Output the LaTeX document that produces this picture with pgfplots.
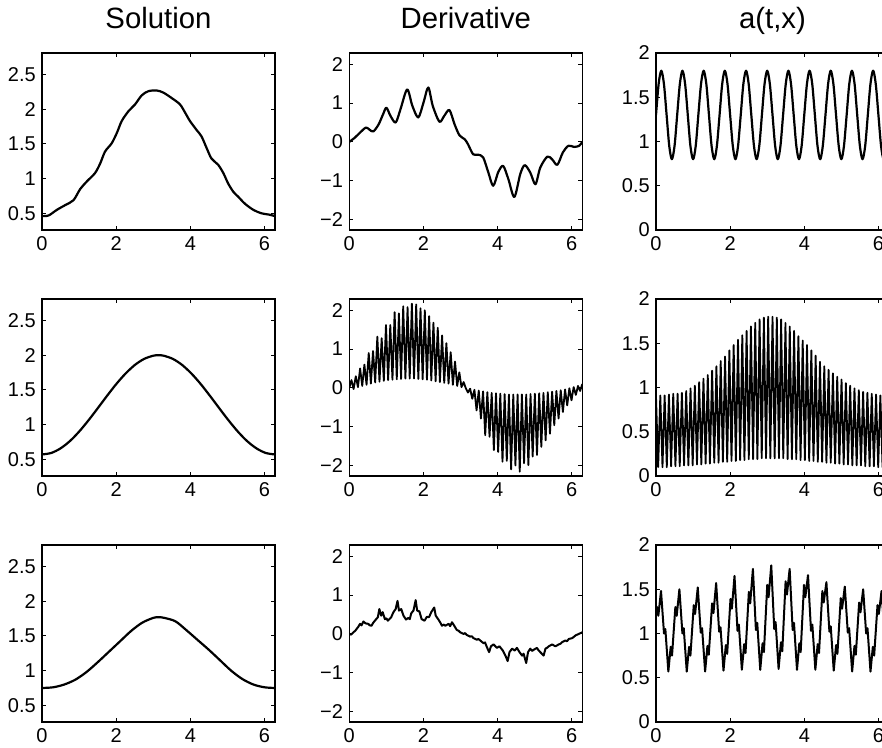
\documentclass[border=0pt]{standalone}
\usepackage{pgfplots}
\pgfplotsset{compat=1.18}
\usepackage{fontspec}
\setmainfont{Liberation Sans}

\newcommand{\ticksfont}{\fontsize{15}{17}\selectfont}
\newcommand{\titlefont}{\fontsize{22}{24}\selectfont}

\pgfplotsset{
  panel/.style={
    scale only axis, width=174.75pt, height=132.75pt,
    anchor=south west,
    xmin=0, xmax=6.2832,
    xtick={0,2,4,6}, xticklabels={0,2,4,6},
    tick align=inside, tick pos=both, major tick length=3pt,
    axis line style={line width=0.9pt, black},
    every tick/.style={line width=0.8pt, black},
    tick label style={font=\ticksfont},
    xticklabel style={anchor=north, inner sep=0pt, yshift=-4.8pt},
    yticklabel style={anchor=east, inner sep=0pt, xshift=-4.5pt},
    title style={font=\titlefont, anchor=base, at={(0.5,1)}, yshift=12.5pt, inner sep=0pt},
  },
  solpanel/.style={panel, ymin=0.26, ymax=2.81,
    ytick={0.5,1,1.5,2,2.5}, yticklabels={0.5,1,1.5,2,2.5}},
  derpanel/.style={panel, ymin=-2.27, ymax=2.29,
    ytick={-2,-1,0,1,2}, yticklabels={−2,−1,0,1,2}},
  coefpanel/.style={panel, ymin=0, ymax=2,
    ytick={0,0.5,1,1.5,2}, yticklabels={0,0.5,1,1.5,2}},
  curve/.style={black, line width=1.65pt, line join=round, mark=none},
  dense/.style={black, line width=1.35pt, line join=round, mark=none},
}

\begin{document}
\begin{tikzpicture}

% ---------------- first row ----------------
\begin{axis}[solpanel, at={(31.5pt,387.75pt)}, title={Solution}]
\addplot[curve, smooth] table {
0.00 0.46
0.18 0.47
0.40 0.55
0.63 0.62
0.85 0.69
1.03 0.85
1.21 0.96
1.43 1.08
1.57 1.22
1.70 1.39
1.88 1.51
2.02 1.66
2.15 1.83
2.33 1.97
2.51 2.07
2.69 2.20
2.87 2.26
3.09 2.27
3.27 2.24
3.50 2.16
3.72 2.07
3.86 1.95
3.99 1.83
4.17 1.70
4.30 1.61
4.44 1.44
4.57 1.29
4.75 1.20
4.89 1.08
5.02 0.93
5.16 0.81
5.29 0.74
5.47 0.64
5.70 0.55
5.92 0.50
6.14 0.48
6.283 0.46
};
\end{axis}

\begin{axis}[derpanel, at={(261.975pt,387.75pt)}, title={Derivative}]
\addplot[curve, smooth] table {
0.00 0.00
0.15 0.11
0.29 0.24
0.45 0.37
0.55 0.31
0.65 0.27
0.79 0.45
0.91 0.71
1.00 0.88
1.11 0.67
1.25 0.50
1.38 0.84
1.56 1.35
1.70 0.93
1.86 0.63
2.00 1.01
2.13 1.40
2.25 0.93
2.43 0.52
2.56 0.67
2.70 0.82
2.84 0.45
2.97 0.17
3.11 0.07
3.20 -0.06
3.34 -0.32
3.47 -0.33
3.61 -0.40
3.75 -0.79
3.88 -1.13
4.02 -0.77
4.15 -0.62
4.29 -0.96
4.45 -1.42
4.61 -0.83
4.73 -0.60
4.88 -0.79
5.02 -1.09
5.15 -0.66
5.34 -0.38
5.47 -0.45
5.61 -0.59
5.76 -0.27
5.91 -0.10
6.06 -0.13
6.20 -0.10
6.283 0.00
};
\end{axis}

\begin{axis}[coefpanel, at={(492pt,387.75pt)}, title={a(t,x)}]
\addplot[curve, smooth] table {
0.000 1.30
0.071 1.65
0.143 1.80
0.214 1.65
0.286 1.30
0.357 0.95
0.428 0.80
0.500 0.95
0.571 1.30
0.643 1.65
0.714 1.80
0.785 1.65
0.857 1.30
0.928 0.95
1.000 0.80
1.071 0.95
1.142 1.30
1.214 1.65
1.285 1.80
1.357 1.65
1.428 1.30
1.499 0.95
1.571 0.80
1.642 0.95
1.714 1.30
1.785 1.65
1.856 1.80
1.928 1.65
1.999 1.30
2.071 0.95
2.142 0.80
2.213 0.95
2.285 1.30
2.356 1.65
2.428 1.80
2.499 1.65
2.570 1.30
2.642 0.95
2.713 0.80
2.785 0.95
2.856 1.30
2.927 1.65
2.999 1.80
3.070 1.65
3.142 1.30
3.213 0.95
3.284 0.80
3.356 0.95
3.427 1.30
3.499 1.65
3.570 1.80
3.641 1.65
3.713 1.30
3.784 0.95
3.856 0.80
3.927 0.95
3.998 1.30
4.070 1.65
4.141 1.80
4.213 1.65
4.284 1.30
4.355 0.95
4.427 0.80
4.498 0.95
4.570 1.30
4.641 1.65
4.712 1.80
4.784 1.65
4.855 1.30
4.927 0.95
4.998 0.80
5.069 0.95
5.141 1.30
5.212 1.65
5.284 1.80
5.355 1.65
5.426 1.30
5.498 0.95
5.569 0.80
5.641 0.95
5.712 1.30
5.783 1.65
5.855 1.80
5.926 1.65
5.998 1.30
6.069 0.95
6.140 0.80
6.212 0.95
6.283 1.30
};
\end{axis}

% ---------------- second row ----------------
\begin{axis}[solpanel, at={(31.5pt,203.25pt)}]
\addplot[curve, smooth] table {
0.000 0.570
0.250 0.592
0.500 0.658
0.750 0.762
1.000 0.899
1.250 1.060
1.500 1.234
1.750 1.412
2.000 1.583
2.250 1.734
2.500 1.858
2.750 1.946
3.000 1.993
3.142 2.000
3.283 1.993
3.533 1.946
3.783 1.858
4.033 1.734
4.283 1.583
4.533 1.412
4.783 1.234
5.033 1.060
5.283 0.899
5.533 0.762
5.783 0.658
6.033 0.592
6.283 0.570
};
\end{axis}

\begin{axis}[derpanel, at={(261.975pt,203.25pt)}]
\addplot[dense] table {
0.000 0.00
0.058 0.20
0.116 -0.03
0.175 0.30
0.233 0.02
0.291 0.50
0.349 0.05
0.407 0.60
0.465 0.08
0.524 0.90
0.582 0.11
0.640 0.95
0.698 0.14
0.756 1.32
0.814 0.16
0.873 1.28
0.931 0.18
0.989 1.62
1.047 0.20
1.105 1.62
1.164 0.21
1.222 1.95
1.280 0.22
1.338 1.92
1.396 0.23
1.454 2.10
1.513 0.24
1.571 2.08
1.629 0.24
1.687 2.17
1.745 0.24
1.804 2.15
1.862 0.23
1.920 2.05
1.978 0.22
2.036 2.00
2.094 0.21
2.153 1.85
2.211 0.19
2.269 1.68
2.327 0.17
2.385 1.55
2.443 0.15
2.502 1.35
2.560 0.13
2.618 1.15
2.676 0.11
2.734 0.92
2.793 0.08
2.851 0.68
2.909 0.05
2.967 0.40
3.025 0.02
3.083 0.15
3.142 -0.01
3.200 -0.12
3.258 -0.02
3.316 -0.28
3.374 -0.05
3.432 -0.58
3.491 -0.07
3.549 -0.79
3.607 -0.09
3.665 -1.22
3.723 -0.11
3.782 -1.26
3.840 -0.13
3.898 -1.60
3.956 -0.14
4.014 -1.65
4.072 -0.15
4.131 -1.90
4.189 -0.16
4.247 -1.88
4.305 -0.17
4.363 -2.10
4.422 -0.17
4.480 -2.00
4.538 -0.17
4.596 -2.16
4.654 -0.17
4.712 -1.94
4.771 -0.17
4.829 -1.99
4.887 -0.16
4.945 -1.77
5.003 -0.15
5.061 -1.73
5.120 -0.14
5.178 -1.52
5.236 -0.13
5.294 -1.35
5.352 -0.11
5.411 -1.18
5.469 -0.10
5.527 -0.96
5.585 -0.08
5.643 -0.79
5.701 -0.06
5.760 -0.62
5.818 -0.04
5.876 -0.45
5.934 -0.01
5.992 -0.32
6.050 0.02
6.109 -0.18
6.167 0.05
6.225 -0.08
6.283 0.10
};
\end{axis}

\begin{axis}[coefpanel, at={(492pt,203.25pt)}]
\addplot[dense] table {
0.000 0.90
0.058 0.10
0.116 0.91
0.175 0.10
0.233 0.91
0.291 0.10
0.349 0.92
0.407 0.11
0.465 0.93
0.524 0.11
0.582 0.93
0.640 0.11
0.698 0.94
0.756 0.12
0.814 0.96
0.873 0.12
0.931 0.99
0.989 0.12
1.047 1.02
1.105 0.13
1.164 1.06
1.222 0.13
1.280 1.10
1.338 0.14
1.396 1.14
1.454 0.14
1.513 1.19
1.571 0.15
1.629 1.24
1.687 0.15
1.745 1.30
1.804 0.16
1.862 1.35
1.920 0.16
1.978 1.42
2.036 0.17
2.094 1.48
2.153 0.17
2.211 1.54
2.269 0.18
2.327 1.59
2.385 0.18
2.443 1.64
2.502 0.19
2.560 1.69
2.618 0.19
2.676 1.73
2.734 0.19
2.793 1.77
2.851 0.20
2.909 1.79
2.967 0.20
3.025 1.80
3.083 0.20
3.142 1.80
3.200 0.20
3.258 1.79
3.316 0.20
3.374 1.77
3.432 0.20
3.491 1.73
3.549 0.19
3.607 1.69
3.665 0.19
3.723 1.64
3.782 0.19
3.840 1.58
3.898 0.18
3.956 1.53
4.014 0.18
4.072 1.48
4.131 0.17
4.189 1.42
4.247 0.17
4.305 1.36
4.363 0.16
4.422 1.29
4.480 0.16
4.538 1.24
4.596 0.15
4.654 1.20
4.712 0.15
4.771 1.16
4.829 0.14
4.887 1.12
4.945 0.14
5.003 1.09
5.061 0.13
5.120 1.05
5.178 0.13
5.236 1.02
5.294 0.12
5.352 0.99
5.411 0.12
5.469 0.97
5.527 0.12
5.585 0.95
5.643 0.11
5.701 0.94
5.760 0.11
5.818 0.93
5.876 0.11
5.934 0.92
5.992 0.10
6.050 0.91
6.109 0.10
6.167 0.91
6.225 0.10
6.283 0.90
};
\end{axis}

% ---------------- third row ----------------
\begin{axis}[solpanel, at={(31.5pt,18.75pt)}]
\addplot[curve, smooth] table {
0.000 0.75
0.300 0.76
0.600 0.80
0.900 0.87
1.200 0.98
1.500 1.12
1.800 1.27
2.100 1.42
2.400 1.57
2.700 1.69
3.000 1.76
3.142 1.77
3.300 1.76
3.600 1.71
3.900 1.58
4.200 1.44
4.500 1.30
4.800 1.15
5.100 1.00
5.400 0.88
5.700 0.80
6.000 0.76
6.283 0.75
};
\end{axis}

\begin{axis}[derpanel, at={(261.975pt,18.75pt)}]
\addplot[curve, line width=1.5pt] table {
0.00 0.00
0.05 -0.02
0.11 0.04
0.16 0.08
0.20 0.13
0.24 0.18
0.29 0.26
0.33 0.22
0.38 0.32
0.44 0.27
0.51 0.26
0.55 0.22
0.60 0.21
0.64 0.28
0.69 0.34
0.77 0.43
0.81 0.64
0.86 0.47
0.90 0.56
0.96 0.38
1.00 0.40
1.04 0.34
1.13 0.43
1.19 0.56
1.25 0.64
1.30 0.85
1.34 0.60
1.40 0.64
1.46 0.47
1.53 0.37
1.59 0.41
1.63 0.38
1.67 0.53
1.73 0.60
1.79 0.87
1.83 0.60
1.89 0.58
1.95 0.38
2.03 0.34
2.09 0.44
2.15 0.43
2.21 0.56
2.29 0.68
2.33 0.47
2.41 0.36
2.46 0.28
2.50 0.21
2.55 0.24
2.59 0.21
2.68 0.26
2.72 0.20
2.77 0.30
2.81 0.24
2.90 0.10
2.95 0.08
2.99 0.04
3.08 0.00
3.12 0.02
3.17 -0.03
3.26 -0.07
3.30 -0.06
3.35 -0.11
3.44 -0.15
3.48 -0.13
3.53 -0.17
3.62 -0.24
3.66 -0.22
3.71 -0.34
3.77 -0.47
3.82 -0.32
3.89 -0.27
3.98 -0.36
4.05 -0.32
4.14 -0.43
4.21 -0.56
4.27 -0.70
4.32 -0.47
4.39 -0.38
4.46 -0.43
4.52 -0.36
4.59 -0.47
4.66 -0.56
4.70 -0.51
4.77 -0.75
4.82 -0.47
4.88 -0.38
4.93 -0.44
4.97 -0.41
5.06 -0.36
5.10 -0.42
5.15 -0.47
5.24 -0.56
5.29 -0.38
5.33 -0.36
5.38 -0.32
5.47 -0.27
5.52 -0.30
5.56 -0.32
5.65 -0.27
5.70 -0.25
5.74 -0.21
5.83 -0.17
5.87 -0.19
5.92 -0.13
6.01 -0.11
6.05 -0.08
6.10 -0.04
6.19 0.00
6.283 0.04
};
\end{axis}

\begin{axis}[coefpanel, at={(492pt,18.75pt)}]
\addplot[curve, line width=1.5pt] table {
0.000 1.26
0.027 1.30
0.063 1.20
0.135 1.48
0.216 1.00
0.252 1.05
0.333 0.57
0.396 0.85
0.432 0.75
0.522 1.30
0.558 1.20
0.631 1.50
0.712 1.00
0.748 1.06
0.829 0.57
0.892 0.85
0.928 0.75
1.018 1.32
1.054 1.22
1.126 1.52
1.207 1.01
1.243 1.06
1.324 0.57
1.387 0.86
1.423 0.76
1.513 1.34
1.549 1.23
1.622 1.57
1.703 1.02
1.739 1.07
1.820 0.58
1.883 0.87
1.919 0.77
2.009 1.39
2.045 1.28
2.117 1.65
2.198 1.03
2.234 1.10
2.315 0.59
2.378 0.88
2.414 0.78
2.504 1.47
2.540 1.34
2.613 1.73
2.694 1.04
2.730 1.12
2.811 0.59
2.874 0.89
2.910 0.79
3.000 1.55
3.036 1.41
3.108 1.77
3.189 1.05
3.225 1.13
3.306 0.60
3.369 0.90
3.405 0.80
3.495 1.59
3.531 1.44
3.604 1.73
3.685 1.04
3.721 1.12
3.802 0.59
3.865 0.89
3.901 0.79
3.991 1.55
4.027 1.41
4.099 1.66
4.180 1.03
4.216 1.10
4.297 0.59
4.360 0.88
4.396 0.78
4.486 1.48
4.522 1.35
4.595 1.58
4.676 1.02
4.712 1.08
4.793 0.58
4.856 0.87
4.892 0.77
4.982 1.40
5.018 1.28
5.091 1.53
5.172 1.01
5.208 1.06
5.289 0.57
5.352 0.86
5.388 0.76
5.478 1.35
5.514 1.24
5.586 1.50
5.667 1.00
5.703 1.06
5.784 0.57
5.847 0.85
5.883 0.75
5.973 1.32
6.009 1.22
6.082 1.48
6.163 1.00
6.199 1.05
6.280 0.57
};
\end{axis}

\pgfresetboundingbox
\useasboundingbox (0pt,0pt) rectangle (661.5pt,560.25pt);
\end{tikzpicture}
\end{document}
